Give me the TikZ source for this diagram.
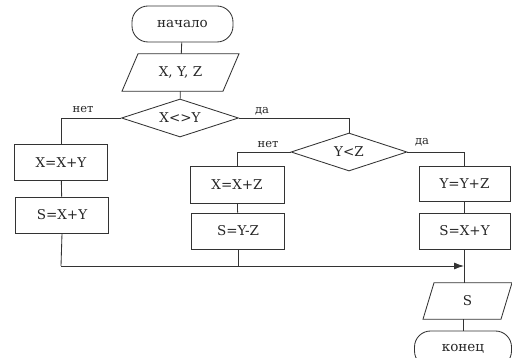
\documentclass[tikz,border=0pt]{standalone}
\usepackage{fontspec}
\setmainfont{DejaVu Serif}
\usetikzlibrary{shapes.geometric,arrows.meta}
\begin{document}
\begin{tikzpicture}[x=1pt,y=-1pt,
  line/.style={draw=black!80,line width=0.85pt},
  base/.style={line,font=\fontsize{13.5}{16}\selectfont,inner sep=0pt,text=black!85},
  term/.style={base,rectangle,rounded corners=16pt,minimum width=101pt,minimum height=36pt},
  proc/.style={base,rectangle,minimum width=93pt,minimum height=36pt},
  txt/.style={font=\fontsize{13.5}{16}\selectfont,inner sep=0pt,text=black!85},
  cond/.style={base,diamond,aspect=3.05,minimum width=117pt,minimum height=38pt},
  lab/.style={font=\fontsize{11.5}{13}\selectfont,text=black!85,inner sep=0pt}]
\useasboundingbox (0,0) rectangle (512,358);
\clip (0,0) rectangle (512,358);
\node[term] (start) at (182.5,24) {начало};
\node[txt,minimum width=101pt,minimum height=37pt] (inp) at (180.5,72.5) {X, Y, Z};
\draw[line] ([xshift=-58.5pt]inp.south) -- ([xshift=-42.5pt]inp.north) -- ([xshift=58.5pt]inp.north) -- ([xshift=42.5pt]inp.south) -- cycle;
\node[cond] (d1) at (180,118) {X<>Y};
\node[proc] (a1) at (61,162.5) {X=X+Y};
\node[proc] (a2) at (62,215) {S=X+Y};
\node[cond,minimum width=116pt] (d2) at (349,152) {Y<Z};
\node[proc,minimum width=94pt,minimum height=37pt] (b1) at (237,184.5) {X=X+Z};
\node[proc] (b2) at (238,231) {S=Y-Z};
\node[proc,minimum width=91pt,minimum height=35pt] (c1) at (464.5,183.5) {Y=Y+Z};
\node[proc,minimum width=91pt] (c2) at (464.5,231) {S=X+Y};
\node[txt,minimum width=78pt,minimum height=36pt] (out) at (467.5,301) {S};
\draw[line] ([xshift=-44.5pt]out.south) -- ([xshift=-33.5pt]out.north) -- ([xshift=44.5pt]out.north) -- ([xshift=33.5pt]out.south) -- cycle;
\node[term,minimum width=97pt] (end) at (463,349) {конец};
\node[lab] (l1) at (83,110) {нет};
\node[lab] (l2) at (262,111) {да};
\node[lab] (l3) at (268,145) {нет};
\node[lab] (l4) at (422,142) {да};
\coordinate (j1) at (61,266);
\coordinate (j2) at (464,266);
\draw[line] (start) -- (inp);
\draw[line] (inp) -- (d1);
\draw[line] (d1.west) -| (a1.north);
\draw[line] (a1) -- (a2);
\draw[line] (d1.east) -| (d2.north);
\draw[line] (d2.west) -| (b1.north);
\draw[line] (b1) -- (b2);
\draw[line] (d2.east) -| (c1.north);
\draw[line] (c1) -- (c2);
\draw[line] (a2.south) -- (j1);
\draw[line,-{Latex[length=10pt,width=7pt]}] (j1) -- (j2);
\draw[line] (b2.south) -- (b2.south |- j1);
\draw[line] (c2.south) -- (out.north -| c2.south);
\draw[line] (out.south -| end.north) -- (end.north);
\end{tikzpicture}
\end{document}
